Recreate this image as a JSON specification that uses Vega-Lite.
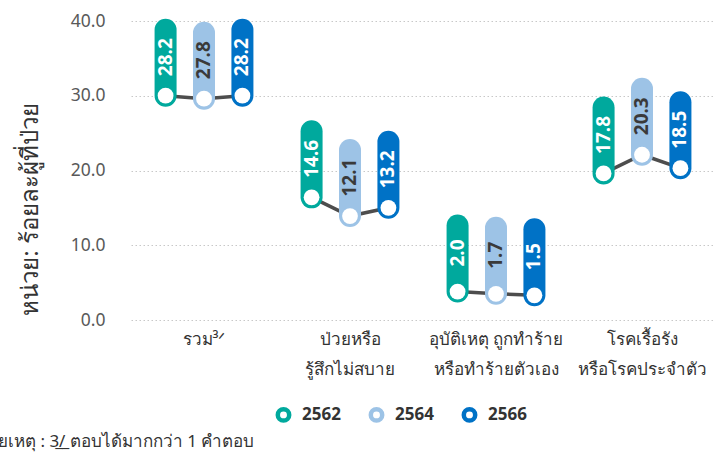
{
  "$schema": "https://vega.github.io/schema/vega-lite/v6.json",
  "width": 584,
  "height": 299,
  "autosize": {"type": "none"},
  "padding": {"left": 131, "top": 21, "right": 0, "bottom": 132},
  "background": "white",
  "config": {"view": {"stroke": null}, "font": "Noto Sans"},
  "title": {
    "text": "หมายเหตุ : 3\u0332/\u0332 ตอบได้มากกว่า 1 คำตอบ",
    "orient": "bottom",
    "anchor": "start",
    "frame": "group",
    "fontSize": 17,
    "fontWeight": "normal",
    "color": "#333333",
    "dx": -165,
    "offset": 4
  },
  "data": {
    "values": [
      {"cat": "รวม³ᐟ", "year": "2562", "value": 28.2},
      {"cat": "รวม³ᐟ", "year": "2564", "value": 27.8},
      {"cat": "รวม³ᐟ", "year": "2566", "value": 28.2},
      {"cat": "ป่วยหรือ|รู้สึกไม่สบาย", "year": "2562", "value": 14.6},
      {"cat": "ป่วยหรือ|รู้สึกไม่สบาย", "year": "2564", "value": 12.1},
      {"cat": "ป่วยหรือ|รู้สึกไม่สบาย", "year": "2566", "value": 13.2},
      {"cat": "อุบัติเหตุ ถูกทำร้าย|หรือทำร้ายตัวเอง", "year": "2562", "value": 2.0},
      {"cat": "อุบัติเหตุ ถูกทำร้าย|หรือทำร้ายตัวเอง", "year": "2564", "value": 1.7},
      {"cat": "อุบัติเหตุ ถูกทำร้าย|หรือทำร้ายตัวเอง", "year": "2566", "value": 1.5},
      {"cat": "โรคเรื้อรัง|หรือโรคประจำตัว", "year": "2562", "value": 17.8},
      {"cat": "โรคเรื้อรัง|หรือโรคประจำตัว", "year": "2564", "value": 20.3},
      {"cat": "โรคเรื้อรัง|หรือโรคประจำตัว", "year": "2566", "value": 18.5}
    ]
  },
  "encoding": {
    "x": {
      "field": "cat",
      "type": "nominal",
      "sort": ["รวม³ᐟ", "ป่วยหรือ|รู้สึกไม่สบาย", "อุบัติเหตุ ถูกทำร้าย|หรือทำร้ายตัวเอง", "โรคเรื้อรัง|หรือโรคประจำตัว"],
      "scale": {"paddingInner": 0, "paddingOuter": 0},
      "axis": {
        "title": null,
        "domain": false,
        "ticks": false,
        "grid": false,
        "labelAngle": 0,
        "labelExpr": "split(datum.label, '|')",
        "labelFontSize": 17,
        "labelColor": "#333333",
        "labelPadding": 11,
        "labelLineHeight": 30,
        "labelBaseline": "top"
      }
    },
    "xOffset": {
      "field": "year",
      "type": "nominal",
      "scale": {"paddingInner": 0, "paddingOuter": 0.4}
    },
    "y": {
      "field": "value",
      "type": "quantitative",
      "scale": {"domain": [0, 40]},
      "axis": {
        "title": "หน่วย: ร้อยละผู้ที่ป่วย",
        "format": ".1f",
        "values": [0, 10, 20, 30, 40],
        "domain": false,
        "ticks": false,
        "labelPadding": 26,
        "labelFontSize": 17.5,
        "labelColor": "#595959",
        "gridColor": "#c8c8c8",
        "gridDash": [1.5, 2.5],
        "gridWidth": 1,
        "titleFontSize": 24,
        "titleColor": "#333333",
        "titleFontWeight": "normal",
        "titleX": -101,
        "titleY": 188,
        "titleAngle": 270,
        "titleAlign": "center",
        "titleBaseline": "middle"
      }
    }
  },
  "layer": [
    {
      "mark": {"type": "line", "color": "#4d4d4d", "strokeWidth": 3.5, "yOffset": -13.5},
      "encoding": {"detail": {"field": "cat"}, "order": {"field": "year"}}
    },
    {
      "mark": {"type": "rule", "strokeWidth": 22, "strokeCap": "round", "yOffset": -13.5, "y2Offset": -79.5},
      "encoding": {
        "y2": {"field": "value"},
        "color": {
          "field": "year",
          "type": "nominal",
          "scale": {"domain": ["2562", "2564", "2566"], "range": ["#00A99D", "#9DC3E6", "#0072C6"]},
          "legend": {
            "title": null,
            "orient": "none",
            "direction": "horizontal",
            "legendX": 144,
            "legendY": 385,
            "symbolType": "circle",
            "symbolSize": 130,
            "symbolStrokeWidth": 4.5,
            "symbolFillColor": "white",
            "labelFontSize": 17,
            "labelFontWeight": "bold",
            "labelColor": "#333333",
            "labelOffset": 10,
            "columnPadding": 20,
            "padding": 0
          }
        }
      }
    },
    {
      "mark": {"type": "point", "filled": true, "fill": "white", "strokeWidth": 0, "opacity": 1, "size": 250, "yOffset": -13.5},
      "encoding": {}
    },
    {
      "mark": {"type": "text", "angle": 270, "fontSize": 19, "fontWeight": "bold", "align": "center", "baseline": "middle", "yOffset": -52},
      "encoding": {
        "text": {"field": "value", "type": "quantitative", "format": ".1f"},
        "color": {"condition": {"test": "datum.year === '2564'", "value": "#3a3a3a"}, "value": "white"}
      }
    }
  ]
}
